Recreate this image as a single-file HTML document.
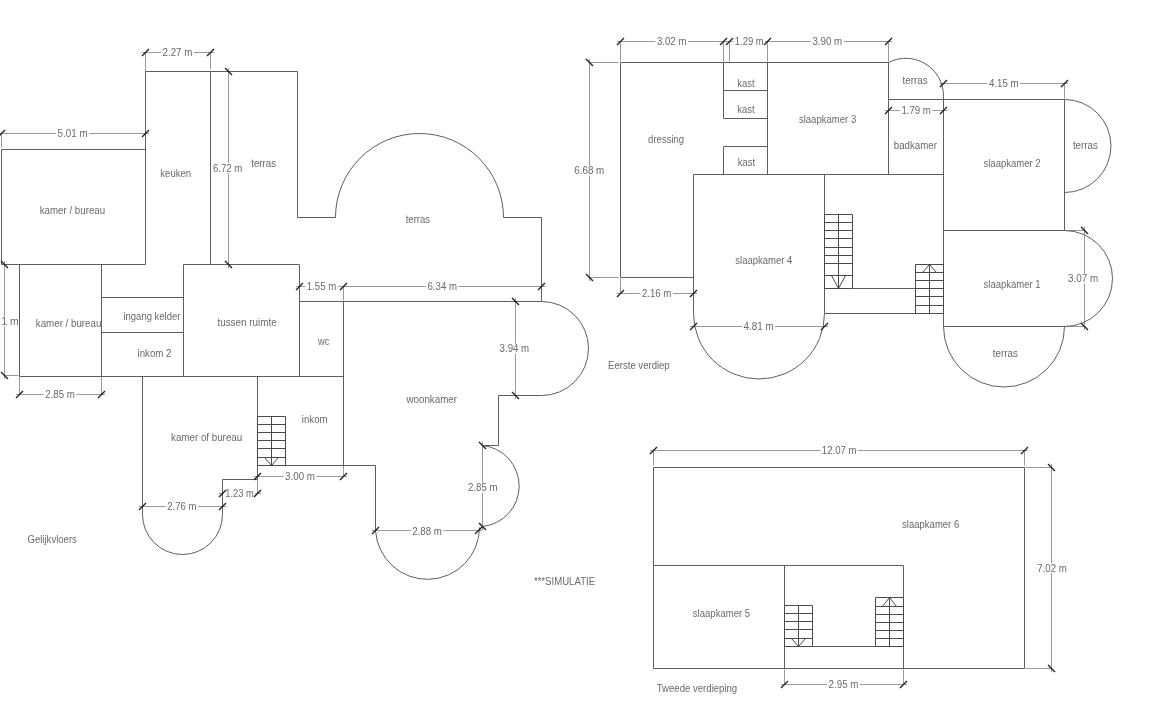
<!DOCTYPE html>
<html><head><meta charset="utf-8"><style>
html,body{margin:0;padding:0;background:#fff;}
body{width:1152px;height:727px;overflow:hidden;}
svg{display:block;}
g.tx{filter:grayscale(1);}
text{font-family:"Liberation Sans", sans-serif;}
</style></head><body>
<svg width="1152" height="727" viewBox="0 0 1152 727">
<rect width="1152" height="727" fill="#fff"/>
<path d="M142,52.5 L214,52.5 M-2,133.5 L149,133.5 M228.5,68 L228.5,268 M4.5,261 L4.5,379 M16,394.5 L105,394.5 M296,286.5 L347,286.5 M340,286.5 L545,286.5 M515.5,298 L515.5,399 M482.5,442 L482.5,530 M372,530.5 L482,530.5 M254,476.5 L347,476.5 M219,493.5 L261,493.5 M139,506.5 L226,506.5 M617,41.5 L727,41.5 M726,41.5 L771,41.5 M764,41.5 L892,41.5 M589.5,59 L589.5,281 M617,293.5 L697,293.5 M690,326.5 L828,326.5 M940,83.5 L1068,83.5 M885,110.5 L947,110.5 M1084.5,227 L1084.5,330 M650,450.5 L1028,450.5 M1051.5,464 L1051.5,672 M781,684.5 L907,684.5 M145.5,52.5 L145.5,69.5 M210.5,52.5 L210.5,69.5 M1.5,133.5 L1.5,147.5 M145.5,133.5 L145.5,69.5 M4.5,375.5 L18.5,375.5 M19.5,376.5 L19.5,394.5 M101.5,376.5 L101.5,394.5 M343.5,286.5 L343.5,300.5 M343.5,465.5 L343.5,476.5 M257.5,479.5 L257.5,493.5 M620.5,41.5 L620.5,61.5 M723.5,41.5 L723.5,61.5 M729.5,41.5 L729.5,61.5 M767.5,41.5 L767.5,61.5 M888.5,41.5 L888.5,61.5 M589.5,62.5 L618.5,62.5 M589.5,277.5 L618.5,277.5 M620.5,278.5 L620.5,293.5 M1064.5,83.5 L1064.5,98.5 M1064.5,230.5 L1084.5,230.5 M1064.5,326.5 L1084.5,326.5 M653.5,450.5 L653.5,465.5 M1024.5,450.5 L1024.5,465.5 M1025.5,467.5 L1051.5,467.5 M1025.5,668.5 L1051.5,668.5 M784.5,669.5 L784.5,684.5 M903.5,669.5 L903.5,684.5" stroke="#999" stroke-width="1" fill="none"/>
<path d="M1.5,149.5 L145.5,149.5 M1.5,149.5 L1.5,264.5 M1.5,264.5 L145.5,264.5 M145.5,71.5 L145.5,264.5 M145.5,71.5 L297.5,71.5 M210.5,71.5 L210.5,264.5 M297.5,71.5 L297.5,217.5 L335.5,217.5 M335.5,217.5 A83.8,83.8 0 0 1 503.5,217.5 M503.5,217.5 L541.5,217.5 L541.5,301.5 M19.5,264.5 L19.5,376.5 M19.5,376.5 L343.5,376.5 M101.5,264.5 L101.5,376.5 M101.5,297.5 L183.5,297.5 M101.5,332.5 L183.5,332.5 M183.5,264.5 L183.5,376.5 M183.5,264.5 L299.5,264.5 M299.5,264.5 L299.5,376.5 M299.5,301.5 L541.5,301.5 M343.5,301.5 L343.5,465.5 M142.5,376.5 L142.5,514.5 M142.5,514.5 A39.85,39.85 0 0 0 222.5,514.5 M222.5,514.5 L222.5,479.5 L257.5,479.5 M257.5,376.5 L257.5,479.5 M257.5,465.5 L375.5,465.5 L375.5,530.5 M375.5,530.5 A52.05,52.05 0 0 0 479.5,527.5 M482.5,526.5 A40.7,40.7 0 0 0 482.5,445.5 M482.5,445.5 L498.5,445.5 L498.5,395.5 L541.5,395.5 M541.5,395.5 A46.6,46.6 0 0 0 541.5,301.5 M620.5,62.5 L888.5,62.5 M620.5,62.5 L620.5,277.5 L693.5,277.5 M723.5,62.5 L723.5,118.5 M723.5,146.5 L723.5,174.5 M723.5,90.5 L767.5,90.5 M723.5,118.5 L767.5,118.5 M723.5,146.5 L767.5,146.5 M767.5,62.5 L767.5,174.5 M693.5,174.5 L943.5,174.5 M693.5,174.5 L693.5,313.5 M693.5,313.5 A65.5,65.5 0 0 0 824.5,313.5 M824.5,313.5 L824.5,174.5 M888.5,62.5 L888.5,174.5 M888.5,62.5 A37.7,37.7 0 0 1 943.5,96.5 M943.5,96.5 L943.5,326.5 M888.5,99.5 L1064.5,99.5 M1064.5,99.5 L1064.5,230.5 M1064.5,99.5 A46.25,46.25 0 0 1 1064.5,192.5 M943.5,230.5 L1064.5,230.5 M1064.5,230.5 A47.8,47.8 0 0 1 1064.5,326.5 M943.5,326.5 L1064.5,326.5 M943.5,326.5 A60,60 0 0 0 1064.5,326.5 M852.5,288.5 L915.5,288.5 M824.5,313.5 L943.5,313.5 M653.5,467.5 L1024.5,467.5 L1024.5,668.5 L653.5,668.5 L653.5,467.5 M653.5,565.5 L903.5,565.5 M784.5,565.5 L784.5,668.5 M903.5,565.5 L903.5,668.5 M812.5,646.5 L875.5,646.5" stroke="#5e5e5e" stroke-width="1" fill="none"/>
<path d="M257.5,416.5 H285.5 V465.5 H257.5 Z M257.5,424.5 H285.5 M257.5,432.5 H285.5 M257.5,440.5 H285.5 M257.5,448.5 H285.5 M257.5,457.5 H285.5 M271.5,416.5 V465.5 M264.5,457.5 L271.5,465.5 L278.5,457.5 M824.5,214.5 H852.5 V288.5 H824.5 Z M824.5,222.5 H852.5 M824.5,230.5 H852.5 M824.5,238.5 H852.5 M824.5,247.5 H852.5 M824.5,255.5 H852.5 M824.5,263.5 H852.5 M824.5,275.5 H852.5 M838.5,214.5 V288.5 M831.5,275.5 L838.5,288.5 L845.5,275.5 M915.5,264.5 H943.5 V313.5 H915.5 Z M915.5,272.5 H943.5 M915.5,280.5 H943.5 M915.5,288.5 H943.5 M915.5,296.5 H943.5 M915.5,305.5 H943.5 M929.5,264.5 V313.5 M922.5,272.5 L929.5,264.5 L936.5,272.5 M784.5,605.5 H812.5 V646.5 H784.5 Z M784.5,613.5 H812.5 M784.5,621.5 H812.5 M784.5,629.5 H812.5 M784.5,638.5 H812.5 M798.5,605.5 V646.5 M791.5,638.5 L798.5,646.5 L805.5,638.5 M875.5,597.5 H903.5 V646.5 H875.5 Z M875.5,606.5 H903.5 M875.5,614.5 H903.5 M875.5,622.5 H903.5 M875.5,630.5 H903.5 M875.5,638.5 H903.5 M889.5,597.5 V646.5 M882.5,606.5 L889.5,597.5 L896.5,606.5" stroke="#4a4a4a" stroke-width="1" fill="none"/>
<g class="tx" font-family="Liberation Sans, sans-serif" font-size="10" fill="#6a6a6a" text-anchor="middle">
<text x="72.45" y="213.6" textLength="65.50" lengthAdjust="spacingAndGlyphs">kamer / bureau</text>
<text x="175.7" y="176.9" textLength="30.80" lengthAdjust="spacingAndGlyphs">keuken</text>
<text x="263.7" y="167.1" textLength="25.00" lengthAdjust="spacingAndGlyphs">terras</text>
<text x="417.9" y="222.6" textLength="24.54" lengthAdjust="spacingAndGlyphs">terras</text>
<text x="68.6" y="326.9" textLength="65.60" lengthAdjust="spacingAndGlyphs">kamer / bureau</text>
<text x="151.9" y="320.1" textLength="56.80" lengthAdjust="spacingAndGlyphs">ingang kelder</text>
<text x="154.5" y="356.6" textLength="34.00" lengthAdjust="spacingAndGlyphs">inkom 2</text>
<text x="247.05" y="326.4" textLength="59.30" lengthAdjust="spacingAndGlyphs">tussen ruimte</text>
<text x="323.65" y="344.6" textLength="11.30" lengthAdjust="spacingAndGlyphs">wc</text>
<text x="431.75" y="402.9" textLength="50.50" lengthAdjust="spacingAndGlyphs">woonkamer</text>
<text x="314.7" y="422.6" textLength="25.80" lengthAdjust="spacingAndGlyphs">inkom</text>
<text x="206.6" y="441.4" textLength="71.20" lengthAdjust="spacingAndGlyphs">kamer of bureau</text>
<text x="52.2" y="543.1" textLength="49.40" lengthAdjust="spacingAndGlyphs">Gelijkvloers</text>
<text x="564.5" y="585.3" textLength="61.20" lengthAdjust="spacingAndGlyphs">***SIMULATIE</text>
<text x="745.95" y="86.6" textLength="17.30" lengthAdjust="spacingAndGlyphs">kast</text>
<text x="745.95" y="113.1" textLength="17.30" lengthAdjust="spacingAndGlyphs">kast</text>
<text x="746.45" y="165.85" textLength="17.30" lengthAdjust="spacingAndGlyphs">kast</text>
<text x="666.15" y="143.35" textLength="36.10" lengthAdjust="spacingAndGlyphs">dressing</text>
<text x="827.55" y="122.85" textLength="57.30" lengthAdjust="spacingAndGlyphs">slaapkamer 3</text>
<text x="915.1" y="84.2" textLength="25.00" lengthAdjust="spacingAndGlyphs">terras</text>
<text x="915.35" y="149.1" textLength="43.10" lengthAdjust="spacingAndGlyphs">badkamer</text>
<text x="1012.05" y="166.85" textLength="57.10" lengthAdjust="spacingAndGlyphs">slaapkamer 2</text>
<text x="1085.4" y="149.3" textLength="25.00" lengthAdjust="spacingAndGlyphs">terras</text>
<text x="763.85" y="263.6" textLength="57.10" lengthAdjust="spacingAndGlyphs">slaapkamer 4</text>
<text x="1012.05" y="287.6" textLength="56.90" lengthAdjust="spacingAndGlyphs">slaapkamer 1</text>
<text x="1005.3" y="356.6" textLength="25.00" lengthAdjust="spacingAndGlyphs">terras</text>
<text x="638.9" y="369.1" textLength="61.60" lengthAdjust="spacingAndGlyphs">Eerste verdiep</text>
<text x="930.65" y="527.6" textLength="57.10" lengthAdjust="spacingAndGlyphs">slaapkamer 6</text>
<text x="721.475" y="616.85" textLength="57.25" lengthAdjust="spacingAndGlyphs">slaapkamer 5</text>
<text x="697" y="691.85" textLength="80.40" lengthAdjust="spacingAndGlyphs">Tweede verdieping</text>
</g>
<g class="tx" font-family="Liberation Sans, sans-serif" font-size="10" fill="#6a6a6a" text-anchor="middle">
<rect x="161.00" y="47.4" width="32.80" height="10" fill="#fff"/>
<text x="177.4" y="56" textLength="29.80" lengthAdjust="spacingAndGlyphs">2.27 m</text>
<rect x="56.10" y="128.75" width="33.05" height="10" fill="#fff"/>
<text x="72.625" y="137.35" textLength="30.05" lengthAdjust="spacingAndGlyphs">5.01 m</text>
<rect x="211.40" y="163.4" width="32.50" height="10" fill="#fff"/>
<text x="227.65" y="172" textLength="29.50" lengthAdjust="spacingAndGlyphs">6.72 m</text>
<rect x="43.80" y="389.25" width="32.60" height="10" fill="#fff"/>
<text x="60.1" y="397.85" textLength="29.60" lengthAdjust="spacingAndGlyphs">2.85 m</text>
<rect x="305.30" y="281.2" width="32.50" height="10" fill="#fff"/>
<text x="321.55" y="289.8" textLength="29.50" lengthAdjust="spacingAndGlyphs">1.55 m</text>
<rect x="426.00" y="281.2" width="32.50" height="10" fill="#fff"/>
<text x="442.25" y="289.8" textLength="29.50" lengthAdjust="spacingAndGlyphs">6.34 m</text>
<rect x="498.10" y="343.6" width="32.60" height="10" fill="#fff"/>
<text x="514.4" y="352.2" textLength="29.60" lengthAdjust="spacingAndGlyphs">3.94 m</text>
<rect x="466.40" y="482.7" width="32.70" height="10" fill="#fff"/>
<text x="482.75" y="491.3" textLength="29.70" lengthAdjust="spacingAndGlyphs">2.85 m</text>
<rect x="410.70" y="525.9" width="32.70" height="10" fill="#fff"/>
<text x="427.05" y="534.5" textLength="29.70" lengthAdjust="spacingAndGlyphs">2.88 m</text>
<rect x="283.60" y="471" width="32.90" height="10" fill="#fff"/>
<text x="300.05" y="479.6" textLength="29.90" lengthAdjust="spacingAndGlyphs">3.00 m</text>
<rect x="223.80" y="488.7" width="31.50" height="10" fill="#fff"/>
<text x="239.55" y="497.3" textLength="28.50" lengthAdjust="spacingAndGlyphs">1.23 m</text>
<rect x="165.70" y="501.6" width="32.40" height="10" fill="#fff"/>
<text x="181.9" y="510.2" textLength="29.40" lengthAdjust="spacingAndGlyphs">2.76 m</text>
<rect x="655.40" y="36.3" width="32.60" height="10" fill="#fff"/>
<text x="671.7" y="44.9" textLength="29.60" lengthAdjust="spacingAndGlyphs">3.02 m</text>
<rect x="733.30" y="36.3" width="31.90" height="10" fill="#fff"/>
<text x="749.25" y="44.9" textLength="28.90" lengthAdjust="spacingAndGlyphs">1.29 m</text>
<rect x="810.90" y="36.3" width="32.80" height="10" fill="#fff"/>
<text x="827.3" y="44.9" textLength="29.80" lengthAdjust="spacingAndGlyphs">3.90 m</text>
<rect x="572.80" y="165.75" width="33.00" height="10" fill="#fff"/>
<text x="589.3" y="174.35" textLength="30.00" lengthAdjust="spacingAndGlyphs">6.68 m</text>
<rect x="640.40" y="288" width="32.50" height="10" fill="#fff"/>
<text x="656.65" y="296.6" textLength="29.50" lengthAdjust="spacingAndGlyphs">2.16 m</text>
<rect x="742.00" y="321.75" width="33.10" height="10" fill="#fff"/>
<text x="758.55" y="330.35" textLength="30.10" lengthAdjust="spacingAndGlyphs">4.81 m</text>
<rect x="987.50" y="78" width="32.60" height="10" fill="#fff"/>
<text x="1003.8" y="86.6" textLength="29.60" lengthAdjust="spacingAndGlyphs">4.15 m</text>
<rect x="899.90" y="105.2" width="32.50" height="10" fill="#fff"/>
<text x="916.15" y="113.8" textLength="29.50" lengthAdjust="spacingAndGlyphs">1.79 m</text>
<rect x="1066.50" y="273.6" width="33.20" height="10" fill="#fff"/>
<text x="1083.1" y="282.2" textLength="30.20" lengthAdjust="spacingAndGlyphs">3.07 m</text>
<rect x="820.30" y="445.5" width="37.80" height="10" fill="#fff"/>
<text x="839.2" y="454.1" textLength="34.80" lengthAdjust="spacingAndGlyphs">12.07 m</text>
<rect x="1035.80" y="563.25" width="32.60" height="10" fill="#fff"/>
<text x="1052.1" y="571.85" textLength="29.60" lengthAdjust="spacingAndGlyphs">7.02 m</text>
<rect x="827.10" y="679.2" width="32.80" height="10" fill="#fff"/>
<text x="843.5" y="687.8" textLength="29.80" lengthAdjust="spacingAndGlyphs">2.95 m</text>
<rect x="0" y="316.3" width="19.00" height="10" fill="#fff"/>
<text x="1.5" y="324.9" text-anchor="start" textLength="17.20" lengthAdjust="spacingAndGlyphs">1 m</text>
</g>
<path d="M142,56 L149,49 M207,56 L214,49 M-2,137 L5,130 M142,137 L149,130 M225,68 L232,75 M225,261 L232,268 M1,261 L8,268 M1,372 L8,379 M16,398 L23,391 M98,398 L105,391 M296,290 L303,283 M340,290 L347,283 M340,290 L347,283 M538,290 L545,283 M512,298 L519,305 M512,392 L519,399 M479,442 L486,449 M479,523 L486,530 M372,534 L379,527 M475,534 L482,527 M254,480 L261,473 M340,480 L347,473 M219,497 L226,490 M254,497 L261,490 M139,510 L146,503 M219,510 L226,503 M617,45 L624,38 M720,45 L727,38 M726,45 L733,38 M764,45 L771,38 M764,45 L771,38 M885,45 L892,38 M586,59 L593,66 M586,274 L593,281 M617,297 L624,290 M690,297 L697,290 M690,330 L697,323 M821,330 L828,323 M940,87 L947,80 M1061,87 L1068,80 M885,114 L892,107 M940,114 L947,107 M1081,227 L1088,234 M1081,323 L1088,330 M650,454 L657,447 M1021,454 L1028,447 M1048,464 L1055,471 M1048,665 L1055,672 M781,688 L788,681 M900,688 L907,681" stroke="#222" stroke-width="1.4" fill="none"/>
</svg>
</body></html>
